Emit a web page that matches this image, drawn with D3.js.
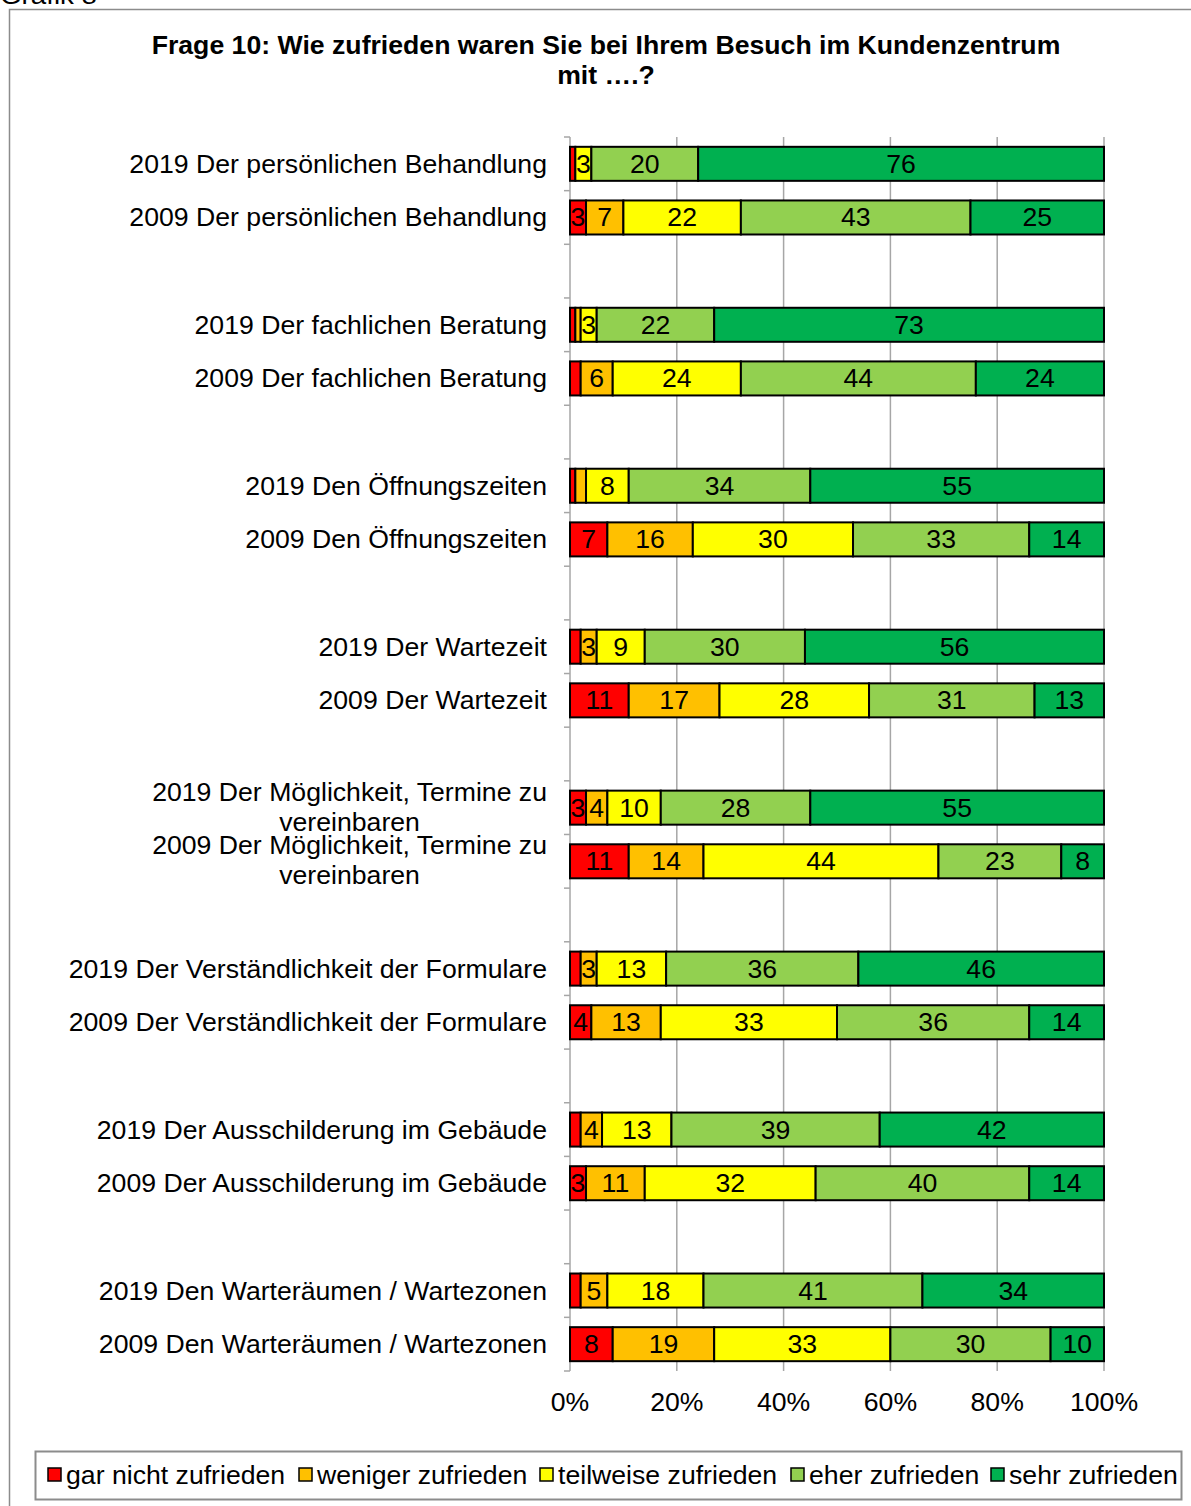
<!DOCTYPE html>
<html>
<head>
    <meta charset="utf-8">
    <title>Frage 10</title>
    <script src="https://d3js.org/d3.v7.min.js"></script>
    <style>
        body, html {
            margin: 0;
            background: #fff;
            overflow: hidden;
        }
        text {
            font-family: Arial, "Liberation Sans", sans-serif;
        }
    </style>
</head>
<body>
<div id="chart"></div>
<script>
    // rows top to bottom, pairs of 2019 / 2009
    const categories = [
        "2019 Der persönlichen Behandlung",
        "2009 Der persönlichen Behandlung",
        "2019 Der fachlichen Beratung",
        "2009 Der fachlichen Beratung",
        "2019 Den Öffnungszeiten",
        "2009 Den Öffnungszeiten",
        "2019 Der Wartezeit",
        "2009 Der Wartezeit",
        "2019 Der Möglichkeit, Termine zu|vereinbaren",
        "2009 Der Möglichkeit, Termine zu|vereinbaren",
        "2019 Der Verständlichkeit der Formulare",
        "2009 Der Verständlichkeit der Formulare",
        "2019 Der Ausschilderung im Gebäude",
        "2009 Der Ausschilderung im Gebäude",
        "2019 Den Warteräumen / Wartezonen",
        "2009 Den Warteräumen / Wartezonen"
    ];
    const seriesNames = ["gar nicht zufrieden", "weniger zufrieden", "teilweise zufrieden", "eher zufrieden", "sehr zufrieden"];
    const garNicht  = [1, 3, 1, 2, 1, 7, 2, 11, 3, 11, 2, 4, 2, 3, 2, 8];
    const weniger   = [0, 7, 1, 6, 2, 16, 3, 17, 4, 14, 3, 13, 4, 11, 5, 19];
    const teilweise = [3, 22, 3, 24, 8, 30, 9, 28, 10, 44, 13, 33, 13, 32, 18, 33];
    const eher      = [20, 43, 22, 44, 34, 33, 30, 31, 28, 23, 36, 36, 39, 40, 41, 30];
    const sehr      = [76, 25, 73, 24, 55, 14, 56, 13, 55, 8, 46, 14, 42, 14, 34, 10];
    const xTicks = [0, 20, 40, 60, 80, 100];
    const colors = ["#ff0000", "#ffc000", "#ffff00", "#92d050", "#00b050"];

    const width = 1191, height = 1506;
    const stretch = 1.066; // the source text is a bit wider than Arial
    const svg = d3.select("#chart").append("svg")
        .attr("width", width)
        .attr("height", height);

    // text helper, stretched horizontally around its anchor point
    function label(parent, tx, ty, str, size, anchor, bold) {
        const t = parent.append("g")
            .attr("transform", `translate(${tx},${ty}) scale(${stretch},1)`)
            .append("text")
            .attr("text-anchor", anchor || "start")
            .attr("font-size", size)
            .text(str);
        if (bold) t.attr("font-weight", "bold");
        return t;
    }

    // outer frame + cut off caption
    label(svg, 0, 4, "Grafik 8", 26);
    svg.append("rect")
        .attr("x", 9.5).attr("y", 9.5)
        .attr("width", 1200).attr("height", 1520)
        .attr("fill", "none").attr("stroke", "#8c8c8c").attr("stroke-width", 1.5);

    // title
    label(svg, 606, 54, "Frage 10: Wie zufrieden waren Sie bei Ihrem Besuch im Kundenzentrum", 25, "middle", true);
    label(svg, 606, 84, "mit ….?", 25, "middle", true);

    // each pair of rows is followed by an empty slot
    const slotOf = i => Math.floor(i / 2) * 3 + (i % 2);
    const nSlots = 23;

    const x = d3.scaleLinear().domain([0, 100]).range([570, 1104]);
    const y = d3.scaleBand().domain(d3.range(nSlots)).range([137, 1371])
        .paddingInner(0.366).paddingOuter(0.183);
    const step = y.step();

    // grid lines
    svg.append("g").selectAll("line")
        .data(xTicks.slice(1))
        .join("line")
        .attr("x1", d => x(d)).attr("x2", d => x(d))
        .attr("y1", 137).attr("y2", 1371)
        .attr("stroke", "#a6a6a6").attr("stroke-width", 1.5);

    // category axis with ticks at slot boundaries
    svg.append("line")
        .attr("x1", 570).attr("x2", 570).attr("y1", 137).attr("y2", 1371)
        .attr("stroke", "#a6a6a6").attr("stroke-width", 1.5);
    svg.append("g").selectAll("line")
        .data(d3.range(nSlots + 1))
        .join("line")
        .attr("x1", 564).attr("x2", 570)
        .attr("y1", d => 137 + d * step).attr("y2", d => 137 + d * step)
        .attr("stroke", "#a6a6a6").attr("stroke-width", 1.5);

    // x axis labels
    const axisG = svg.append("g");
    xTicks.forEach(d => label(axisG, x(d), 1411, d + "%", 25, "middle"));

    // category labels
    const labelG = svg.append("g");
    categories.forEach((c, i) => {
        const cy = y(slotOf(i)) + y.bandwidth() / 2;
        const lines = c.split("|");
        if (lines.length === 1) {
            label(labelG, 547, cy + 9, c, 25, "end");
        } else {
            const t = label(labelG, 547, cy - 7, lines[0], 25, "end");
            const w = t.node().getComputedTextLength() * stretch;
            label(labelG, 547 - w / 2, cy + 23, lines[1], 25, "middle");
        }
    });

    // stacked bars
    const rows = categories.map((c, i) => ({
        slot: slotOf(i),
        vals: [garNicht[i], weniger[i], teilweise[i], eher[i], sehr[i]]
    }));
    const segs = [];
    rows.forEach(r => {
        let acc = 0;
        r.vals.forEach((v, k) => {
            segs.push({slot: r.slot, k: k, v: v, x0: acc, x1: acc + v});
            acc += v;
        });
    });

    const barG = svg.append("g");
    barG.selectAll("rect")
        .data(segs.filter(d => d.v > 0))
        .join("rect")
        .attr("x", d => x(d.x0))
        .attr("y", d => y(d.slot))
        .attr("width", d => x(d.x1) - x(d.x0))
        .attr("height", y.bandwidth())
        .attr("fill", d => colors[d.k])
        .attr("stroke", "#000").attr("stroke-width", 2);

    segs.filter(d => d.v >= 3).forEach(d => {
        label(barG, (x(d.x0) + x(d.x1)) / 2, y(d.slot) + y.bandwidth() / 2 + 9, d.v, 25, "middle");
    });

    // legend
    const leg = svg.append("g");
    leg.append("rect").attr("x", 35.5).attr("y", 1451.5)
        .attr("width", 1146).attr("height", 48)
        .attr("fill", "#fff").attr("stroke", "#8c8c8c").attr("stroke-width", 2);
    const legX = [48, 299, 540, 791, 991];
    seriesNames.forEach((s, k) => {
        leg.append("rect").attr("x", legX[k]).attr("y", 1468)
            .attr("width", 13).attr("height", 13)
            .attr("fill", colors[k]).attr("stroke", "#000").attr("stroke-width", 1.5);
        label(leg, legX[k] + 18, 1484, s, 25);
    });
</script>
</body>
</html>
